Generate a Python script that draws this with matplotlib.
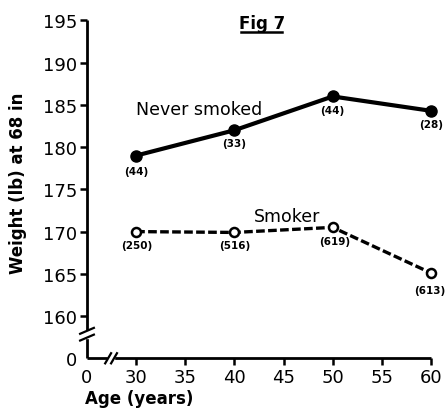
import matplotlib
matplotlib.use("Agg")
import matplotlib.pyplot as plt

ages = [30, 40, 50, 60]
never_smoked = [179.0, 182.0, 186.0, 184.3]
smoker = [170.0, 169.9, 170.5, 165.1]
never_counts = ["(44)", "(33)", "(44)", "(28)"]
smoker_counts = ["(250)", "(516)", "(619)", "(613)"]
xticks = [25, 30, 35, 40, 45, 50, 55, 60]
xticklabels = ["0", "30", "35", "40", "45", "50", "55", "60"]
yticks = [155, 160, 165, 170, 175, 180, 185, 190, 195]
yticklabels = ["0", "160", "165", "170", "175", "180", "185", "190", "195"]

plt.rcParams['font.family'] = ['DejaVu Sans']

fig = plt.figure(figsize=(4.45, 4.10), dpi=100)
ax = fig.add_axes([0.1955, 0.1237, 0.773, 0.824])
ax.set_xlim(25, 60)
ax.set_ylim(155, 195)

for s in ['top', 'right']:
    ax.spines[s].set_visible(False)
for s in ['left', 'bottom']:
    ax.spines[s].set_linewidth(2.0)
    ax.spines[s].set_capstyle('butt')

ax.plot(ages, never_smoked, color='black', lw=3, marker='o', ms=8,
        mfc='black', mec='black', clip_on=False, zorder=3)
ax.plot(ages, smoker, color='black', lw=2.4, ls=(0, (2.6, 1.0)), marker='o', ms=6.5,
        mfc='white', mec='black', mew=1.8, clip_on=False, zorder=3)

lab_kw = dict(textcoords='offset pixels', ha='center', va='center',
              fontsize=7.5, fontweight='bold')
never_off = [(0, -15), (0, -13), (0, -14), (0, -13)]
for x, y, t, o in zip(ages, never_smoked, never_counts, never_off):
    ax.annotate(t, (x, y), xytext=o, **lab_kw)
smoker_off = [(1, -13), (0, -13), (2, -14), (-1, -17)]
for x, y, t, o in zip(ages, smoker, smoker_counts, smoker_off):
    ax.annotate(t, (x, y), xytext=o, **lab_kw)

ax.text(36.4, 184.5, "Never smoked", fontsize=12.5, ha='center', va='center')
ax.text(45.35, 171.9, "Smoker", fontsize=12.5, ha='center', va='center')

ax.set_xticks(xticks)
ax.set_xticklabels(xticklabels, fontsize=13)
ax.set_yticks(yticks)
ax.set_yticklabels(yticklabels, fontsize=13)
ax.tick_params(axis='both', width=1.8, length=5, direction='out', pad=2)
ax.yaxis.get_major_ticks()[0].tick1line.set_visible(False)
ax.xaxis.get_major_ticks()[0].tick1line.set_visible(False)

ax.set_xlabel("Age (years)", fontsize=12, fontweight='bold')
ax.xaxis.set_label_coords(-0.005, -0.091)
ax.xaxis.label.set_ha('left')
ax.xaxis.label.set_va('top')
ax.set_ylabel("Weight (lb) at 68 in", fontsize=12, fontweight='bold')
ax.yaxis.set_label_coords(-0.174, 0.52)

# axis break marks
ax.fill_between([24.6, 25.4], 157.45, 158.25, color='white', zorder=4, clip_on=False)
for yb in (157.45, 158.25):
    ax.plot([24.3, 25.7], [yb - 0.35, yb + 0.35], color='black', lw=1.6,
            clip_on=False, zorder=5)
ax.fill_between([27.15, 27.75], 154.6, 155.4, color='white', zorder=4, clip_on=False)
for xb in (27.15, 27.75):
    ax.plot([xb - 0.3, xb + 0.3], [154.4, 155.6], color='black', lw=1.6,
            clip_on=False, zorder=5)

ax.text(42.8, 194.7, "Fig 7", fontsize=12, fontweight='bold', ha='center', va='center')
ax.plot([40.7, 44.8], [193.6, 193.6], color='black', lw=1.8, clip_on=False)

fig.savefig("out.png", dpi=100)
